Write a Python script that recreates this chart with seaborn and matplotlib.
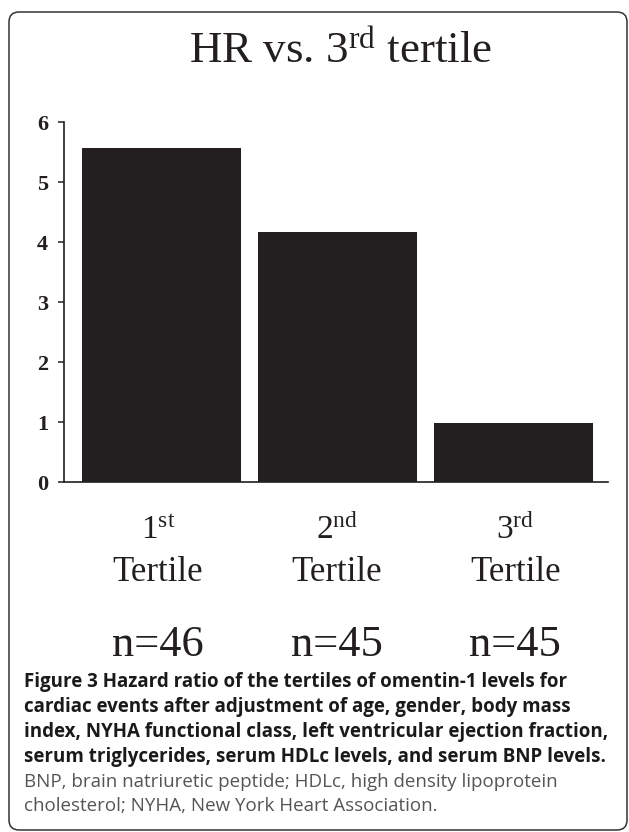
import matplotlib
matplotlib.use("Agg")
import matplotlib.pyplot as plt
from matplotlib.patches import FancyBboxPatch
import seaborn as sns

# ---- data ----
categories = ["1st", "2nd", "3rd"]
ordinal_nums = ["1", "2", "3"]
ordinal_sufs = ["st", "nd", "rd"]
hazard_ratio = [5.56, 4.16, 0.98]
n_labels = ["n=46", "n=45", "n=45"]
y_ticks = [0, 1, 2, 3, 4, 5, 6]
title = "HR vs. 3$^{\\mathrm{rd}}$ tertile"
caption_bold = [
    "Figure 3 Hazard ratio of the tertiles of omentin-1 levels for",
    "cardiac events after adjustment of age, gender, body mass",
    "index, NYHA functional class, left ventricular ejection fraction,",
    "serum triglycerides, serum HDLc levels, and serum BNP levels.",
]
caption_regular = [
    "BNP, brain natriuretic peptide; HDLc, high density lipoprotein",
    "cholesterol; NYHA, New York Heart Association.",
]

sns.set_theme(style="white")
plt.rcParams["font.family"] = ["Liberation Serif", "DejaVu Serif"]
plt.rcParams["mathtext.fontset"] = "custom"
plt.rcParams["mathtext.rm"] = "Liberation Serif"
plt.rcParams["mathtext.it"] = "Liberation Serif:italic"
plt.rcParams["mathtext.bf"] = "Liberation Serif:bold"

W, H = 629, 832
fig = plt.figure(figsize=(W / 100, H / 100), dpi=100)
fig.patch.set_facecolor("white")

dark = "#231f20"

# axes placement (pixels -> fractions)
ax_left, ax_right, ax_top, ax_bottom = 64, 608, 122, 482
ax = fig.add_axes([ax_left / W, (H - ax_bottom) / H,
                   (ax_right - ax_left) / W, (ax_bottom - ax_top) / H])

sns.barplot(x=categories, y=hazard_ratio, color=dark, saturation=1,
            width=0.9, edgecolor="none", linewidth=0, ax=ax)
ax.set_xlim(-0.554, 2.537)
ax.set_ylim(0, 6)
ax.set_yticks(y_ticks)
ax.set_yticklabels([str(t) for t in y_ticks], fontsize=16, fontweight="bold",
                   color=dark)
ax.set_xticks(range(len(categories)))
ax.set_xticklabels([])
ax.tick_params(axis="x", length=0)
ax.tick_params(axis="y", direction="out", length=4.5, width=1.1, pad=7,
               color=dark, left=True)
ax.set_xlabel("")
ax.set_ylabel("")
for s in ["top", "right"]:
    ax.spines[s].set_visible(False)
for s in ["left", "bottom"]:
    ax.spines[s].set_color(dark)
    ax.spines[s].set_linewidth(1.2)

tr = ax.get_xaxis_transform()
def yfrac(px):
    return (ax_bottom - px) / (ax_bottom - ax_top)

for i, (num, suf, n) in enumerate(zip(ordinal_nums, ordinal_sufs, n_labels)):
    xc = i - 0.02 + 0.015 * i
    ax.text(xc, yfrac(539), f"{num}$^{{\\mathrm{{{suf}}}}}$", transform=tr,
            ha="center", va="baseline", fontsize=24, color=dark, clip_on=False)
    ax.text(xc, yfrac(581), "Tertile", transform=tr,
            ha="center", va="baseline", fontsize=25, color=dark, clip_on=False)
    ax.text(xc, yfrac(656), n, transform=tr,
            ha="center", va="baseline", fontsize=32, color=dark, clip_on=False)

# title
fig.text(340 / W, (H - 63) / H, title,
         ha="center", va="baseline", fontsize=32.4, color=dark)

# caption
cap_x = 24 / W
baselines = [687, 712, 737, 762, 787, 811]
for line, b in zip(caption_bold, baselines[:4]):
    fig.text(cap_x, (H - b) / H, line, ha="left", va="baseline",
             fontsize=13.5, fontweight="bold", family=["Open Sans", "DejaVu Sans"],
             color="#1a1a1a")
for line, b in zip(caption_regular, baselines[4:]):
    fig.text(cap_x, (H - b) / H, line, ha="left", va="baseline",
             fontsize=13.5, family=["Open Sans", "DejaVu Sans"], color="#555555")

# rounded border
border = FancyBboxPatch((0.09, 0.02), 6.18, 8.18,
                        boxstyle="round,pad=0,rounding_size=0.1",
                        transform=fig.dpi_scale_trans, fill=False,
                        edgecolor="#333333", linewidth=1.1)
fig.patches.append(border)

fig.savefig("out.png", dpi=100)
